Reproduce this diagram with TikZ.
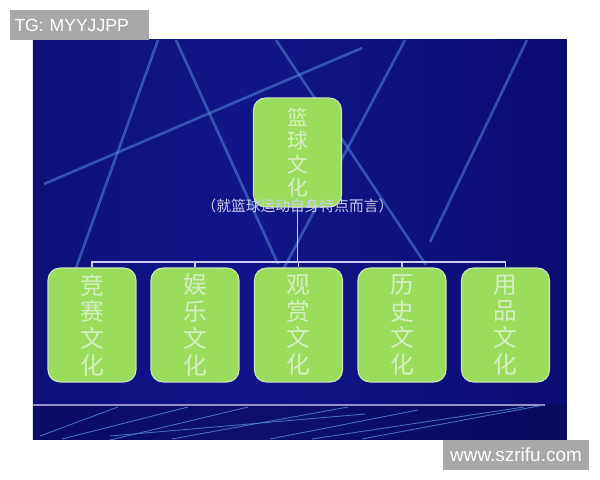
\documentclass[tikz,border=0pt]{standalone}
\usepackage{fontspec}
\setmainfont{Liberation Sans}
\newfontfamily\cjk{Noto Sans CJK SC}
\definecolor{navydark}{RGB}{6,6,70}
\definecolor{navymid}{RGB}{10,12,112}
\definecolor{navylight}{RGB}{16,22,138}
\definecolor{boxgreen}{RGB}{156,220,92}
\definecolor{boxedge}{RGB}{205,232,185}
\definecolor{boxtext}{RGB}{214,238,196}
\definecolor{beam}{RGB}{85,135,215}
\definecolor{wire}{RGB}{205,205,240}
\definecolor{markgray}{RGB}{168,168,168}
\pgfdeclarehorizontalshading{slide}{100bp}{color(0bp)=(navydark); color(8bp)=(navydark); color(11bp)=(navymid); color(45bp)=(navylight); color(75bp)=(navymid); color(100bp)=(navymid)}
\tikzset{
  branch/.style={draw=boxedge, line width=.6pt, fill=boxgreen, rounded corners=.24cm,
    minimum width=1.76cm, minimum height=2.28cm, inner sep=0pt, align=center,
    text=boxtext, font=\cjk\fontsize{13.5}{15.2}\selectfont},
  rootbox/.style={branch, minimum height=2.18cm, font=\cjk\fontsize{11.8}{13.2}\selectfont},
  watermark/.style={fill=markgray, text=white, inner sep=0pt, font=\fontsize{10}{12}\selectfont}
}
\begin{document}
\begin{tikzpicture}[x=0.02cm, y=-0.02cm]
\useasboundingbox[fill=white] (0,0) rectangle (600,480);
\shade[shading=slide] (33,40) rectangle (567,440);

\begin{scope}
\clip (33,40) rectangle (567,440);
\foreach \a/\b in {{(158,40)}/{(76,268)}, {(176,40)}/{(278,264)}, {(44,184)}/{(362,48)},
    {(276,40)}/{(426,265)}, {(405,40)}/{(284,268)}, {(527,40)}/{(430,242)}}
{
    \draw[beam, line width=1.5pt, opacity=.55] \a -- \b;
}
\fill[navydark, opacity=.4] (33,405) rectangle (567,440);
\draw[wire!70!navymid, line width=.9pt] (33,405) -- (545,405);
\foreach \a/\b in {{(40,436)}/{(118,407)}, {(62,439)}/{(188,407)}, {(106,441)}/{(248,407)},
    {(110,436)}/{(365,414)}, {(172,439)}/{(348,407)}, {(270,439)}/{(418,410)},
    {(312,439)}/{(524,407)}, {(362,439)}/{(544,405)}}
{
    \draw[beam, line width=.5pt, opacity=.8] \a -- \b;
}
\end{scope}

\node[rootbox] (root) at (297.5,152.5) {篮\\球\\文\\化};
\node[branch] (jingsai) at (92,325) {竞\\赛\\文\\化};
\node[branch] (yule) at (195,325) {娱\\乐\\文\\化};
\node[branch] (guanshang) at (298.5,325) {观\\赏\\文\\化};
\node[branch] (lishi) at (402,325) {历\\史\\文\\化};
\node[branch] (yongpin) at (505.5,325) {用\\品\\文\\化};

\coordinate (bus) at (297.5,262);
\draw[wire, line width=.9pt] (root.south) -- (bus);
\draw[wire, line width=.9pt] (jingsai.north) -- (bus -| jingsai.north) -- (bus -| yongpin.north) -- (yongpin.north);
\foreach \n in {yule,guanshang,lishi}
{
    \draw[wire, line width=.9pt] (\n.north) -- (bus -| \n.north);
}

\node[text=wire, font=\cjk\fontsize{8.4}{10}\selectfont, inner sep=1pt] (note) at (297.5,206) {（就篮球运动自身特点而言）};

\node[watermark, minimum width=2.78cm, minimum height=.6cm, text width=2.6cm] (tg) at (79.5,25) {TG: MYYJJPP};
\node[watermark, minimum width=2.94cm, minimum height=.6cm, font=\fontsize{10.8}{12}\selectfont] (site) at (516,455) {www.szrifu.com};
\end{tikzpicture}
\end{document}
